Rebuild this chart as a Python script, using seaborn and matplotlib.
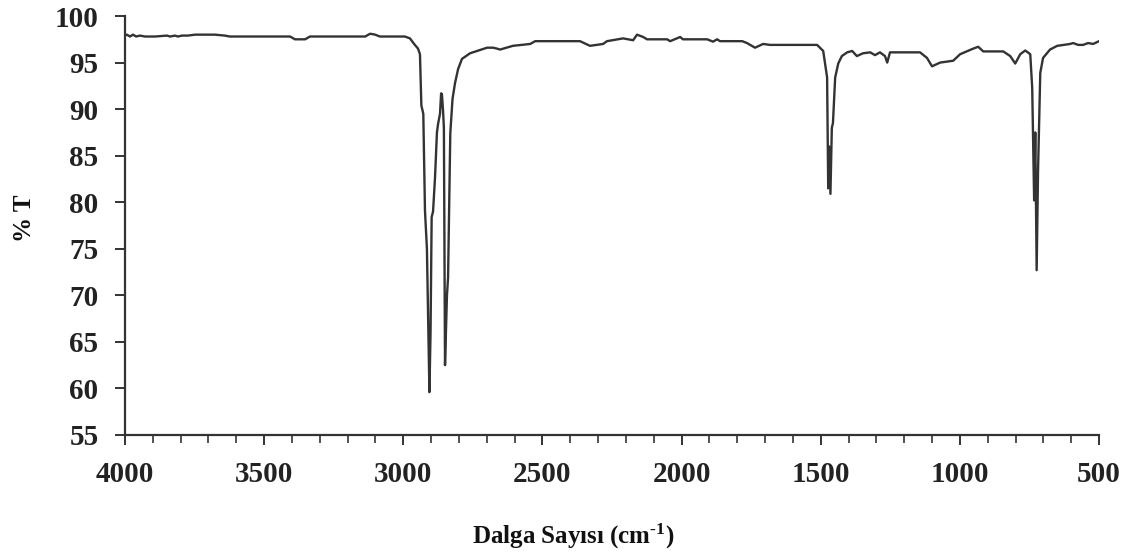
import matplotlib
matplotlib.use("Agg")
import matplotlib.pyplot as plt
import seaborn as sns
import pandas as pd
from matplotlib.ticker import MultipleLocator

# ---- data ----
wavenumber = [
    4000, 3993, 3982, 3971, 3960, 3946, 3928, 3892, 3849, 3838, 3820, 3810, 3795,
    3774, 3748, 3677, 3641, 3623, 3407, 3389, 3353, 3335, 3137, 3119, 3101, 3084,
    2994, 2976, 2961, 2947, 2940, 2935, 2928, 2922, 2915, 2911, 2906, 2902, 2898,
    2893, 2886, 2879, 2875, 2868, 2864, 2861, 2857, 2854, 2850, 2843, 2839, 2834,
    2831, 2823, 2814, 2803, 2789, 2760, 2699, 2677, 2663, 2652, 2606, 2544, 2526,
    2365, 2329, 2282, 2268, 2210, 2174, 2160, 2138, 2124, 2052, 2041, 2005, 1995,
    1908, 1887, 1872, 1862, 1782, 1765, 1736, 1707, 1682, 1513, 1491, 1477, 1473,
    1470, 1465, 1460, 1456, 1448, 1437, 1424, 1405, 1387, 1370, 1348, 1322, 1305,
    1287, 1269, 1261, 1251, 1143, 1118, 1100, 1071, 1024, 999, 952, 934, 916, 844,
    819, 801, 783, 765, 747, 740, 733, 729, 724, 719, 711, 701, 676, 650, 604, 593,
    575, 557, 539, 521, 500,
]
transmittance = [
    97.9, 98.0, 97.8, 98.0, 97.8, 97.9, 97.8, 97.8, 97.9, 97.8, 97.9, 97.8, 97.9,
    97.9, 98.0, 98.0, 97.9, 97.8, 97.8, 97.5, 97.5, 97.8, 97.8, 98.1, 98.0, 97.8,
    97.8, 97.6, 97.0, 96.5, 95.9, 90.4, 89.5, 79.1, 75.0, 68.4, 59.6, 66.0, 78.4,
    79.0, 82.6, 87.5, 88.4, 89.5, 91.7, 91.6, 89.8, 88.0, 62.5, 70.0, 71.9, 82.0,
    87.4, 91.1, 92.8, 94.3, 95.4, 96.0, 96.6, 96.6, 96.5, 96.4, 96.8, 97.0, 97.3,
    97.3, 96.8, 97.0, 97.3, 97.6, 97.4, 98.0, 97.75, 97.5, 97.5, 97.3, 97.75, 97.5,
    97.5, 97.25, 97.5, 97.3, 97.3, 97.1, 96.6, 97.0, 96.9, 96.9, 96.25, 93.4, 81.5,
    86.0, 80.9, 88.0, 88.5, 93.4, 94.9, 95.7, 96.1, 96.25, 95.7, 96.0, 96.1, 95.8,
    96.1, 95.7, 95.0, 96.1, 96.1, 95.5, 94.6, 95.0, 95.2, 95.9, 96.5, 96.7, 96.2, 96.2,
    95.7, 94.9, 95.9, 96.3, 95.9, 92.3, 80.2, 87.5, 72.7, 83.4, 93.9, 95.5, 96.4, 96.8, 97.0, 97.1,
    96.9, 96.9, 97.1, 97.0, 97.3,
]
x_ticks = [4000, 3500, 3000, 2500, 2000, 1500, 1000, 500]
y_ticks = [55, 60, 65, 70, 75, 80, 85, 90, 95, 100]

df = pd.DataFrame({"w": wavenumber, "t": transmittance})

sns.set_style("ticks")
plt.rcParams["font.family"] = ["Liberation Serif", "DejaVu Serif"]
plt.rcParams["font.weight"] = "bold"
plt.rcParams["mathtext.fontset"] = "custom"
plt.rcParams["mathtext.rm"] = "Liberation Serif:bold"
plt.rcParams["mathtext.bf"] = "Liberation Serif:bold"
plt.rcParams["mathtext.it"] = "Liberation Serif:bold"
plt.rcParams["axes.unicode_minus"] = False

fig = plt.figure(figsize=(11.31, 5.53), dpi=100)
ax = fig.add_axes([0.1105, 0.2134, 0.8612, 0.7576])

sns.lineplot(data=df, x="w", y="t", ax=ax, color="#333333", linewidth=1.7,
             sort=False, estimator=None)

ax.set_xlim(4000, 500)
ax.set_ylim(55, 100)
ax.set_xticks(x_ticks)
ax.set_yticks(y_ticks)
ax.xaxis.set_minor_locator(MultipleLocator(100))

sns.despine(ax=ax)
for s in ["left", "bottom"]:
    ax.spines[s].set_color("#333333")
    ax.spines[s].set_linewidth(1.6)

ax.tick_params(axis="both", which="major", direction="out", length=7, width=1.4,
               color="#333333", labelsize=21, pad=12)
ax.tick_params(axis="x", which="minor", direction="out", length=6, width=1.2,
               color="#333333")
for lab in ax.get_xticklabels() + ax.get_yticklabels():
    lab.set_fontweight("bold")
    lab.set_color("#222222")

ax.set_xlabel("Dalga Sayısı (cm$^{\\text{-1}}$)", fontsize=18, fontweight="bold",
              color="#111111")
ax.xaxis.set_label_coords(0.46, -0.208)
ax.set_ylabel("% T", fontsize=18, fontweight="bold", color="#111111")
ax.yaxis.set_label_coords(-0.091, 0.518)

fig.savefig("out.png", dpi=100)
